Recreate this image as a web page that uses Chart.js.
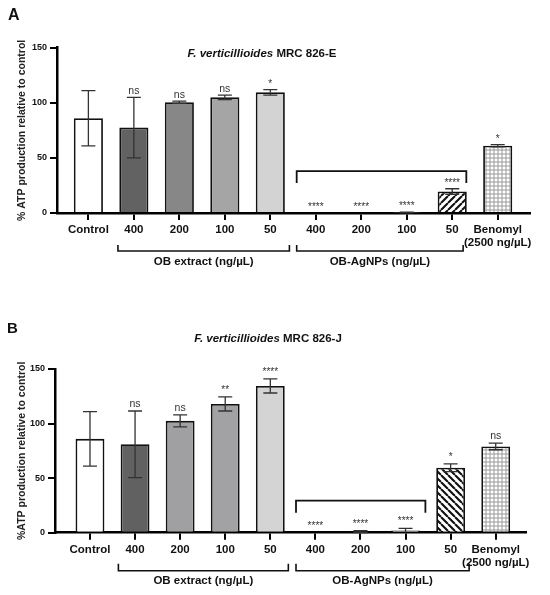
<!DOCTYPE html>
<html>
<head>
<meta charset="utf-8">
<script src="https://cdn.jsdelivr.net/npm/chart.js@4.4.0/dist/chart.umd.min.js"></script>
<style>
  html, body { margin: 0; padding: 0; background: #fff; }
  .panel { position: absolute; left: 0; width: 550px; }
  #panelA { top: 0; height: 300px; }
  #panelB { top: 300px; height: 295px; }
</style>
</head>
<body>
<div class="panel" id="panelA"><canvas id="chartA"></canvas></div>
<div class="panel" id="panelB"><canvas id="chartB"></canvas></div>
<script>
// categories shared by both panels
const categories = ['Control', '400', '200', '100', '50', '400', '200', '100', '50', ['Benomyl', '(2500 ng/µL)']];
const groupLabels = ['OB extract (ng/µL)', 'OB-AgNPs (ng/µL)'];
const yTicks = [0, 50, 100, 150];

// Panel A - F. verticillioides MRC 826-E
const valuesA = [86, 77.5, 100.5, 105, 109.5, 0, 0, 0.5, 19.5, 61];
const errorsA = [25, 27.5, 1, 2, 2.5, 0, 0, 0.3, 2.5, 1];
const signifA = ['', 'ns', 'ns', 'ns', '*', '****', '****', '****', '****', '*'];

// Panel B - F. verticillioides MRC 826-J
const valuesB = [86, 81, 102.5, 118, 134.5, 0, 1, 2, 59.5, 79];
const errorsB = [25, 30.5, 5.5, 6.5, 6.5, 0, 0.8, 2, 3.5, 3];
const signifB = ['', 'ns', 'ns', '**', '****', '****', '****', '****', '*', 'ns'];

const FONT = '"Liberation Sans", Arial, Helvetica, sans-serif';

// diagonal hatch fill, dir 1 = '/', -1 = '\'
function hatch(dir) {
    const s = 7;
    const c = document.createElement('canvas');
    c.width = s; c.height = s;
    const g = c.getContext('2d');
    g.fillStyle = '#fff';
    g.fillRect(0, 0, s, s);
    g.strokeStyle = '#111';
    g.lineWidth = 2.1;
    g.beginPath();
    for (let k = -1; k <= 1; k++) {
        if (dir > 0) { g.moveTo(k * s, s); g.lineTo(k * s + s, 0); }
        else { g.moveTo(k * s, 0); g.lineTo(k * s + s, s); }
    }
    g.stroke();
    return g.createPattern(c, 'repeat');
}

// fine dotted fill for Benomyl
function dots() {
    const c = document.createElement('canvas');
    c.width = 4; c.height = 4;
    const g = c.getContext('2d');
    g.fillStyle = '#fff';
    g.fillRect(0, 0, 4, 4);
    g.strokeStyle = '#777';
    g.lineWidth = 0.8;
    g.beginPath();
    g.arc(2, 2, 1.2, 0, Math.PI * 2);
    g.stroke();
    return g.createPattern(c, 'repeat');
}

const fillsA = ['#ffffff', '#626262', '#878787', '#a5a5a6', '#d3d3d3', '#ffffff', '#ffffff', '#ffffff', hatch(1), dots()];
const fillsB = ['#ffffff', '#616161', '#a0a0a2', '#a2a2a4', '#d4d4d4', '#ffffff', '#ffffff', '#e6e6e6', hatch(-1), dots()];

// error bars, stars, brackets, titles
const panelDecor = {
    id: 'panelDecor',
    afterDatasetsDraw(chart, args, opts) {
        const ctx = chart.ctx;
        const ds = chart.data.datasets[0];
        const meta = chart.getDatasetMeta(0);
        const y = chart.scales.y;
        ctx.save();
        ctx.strokeStyle = '#333';
        ctx.lineWidth = 1.3;
        meta.data.forEach((bar, i) => {
            const v = ds.data[i].y, e = ds.errors[i];
            if (!e) return;
            const top = y.getPixelForValue(v + e);
            const low = y.getPixelForValue(Math.max(0, v - e));
            const cap = 7;
            ctx.beginPath();
            ctx.moveTo(bar.x, top); ctx.lineTo(bar.x, low);
            ctx.moveTo(bar.x - cap, top); ctx.lineTo(bar.x + cap, top);
            if (v - e > 0) { ctx.moveTo(bar.x - cap, low); ctx.lineTo(bar.x + cap, low); }
            ctx.stroke();
        });
        ctx.fillStyle = '#333';
        ctx.textAlign = 'center';
        ctx.textBaseline = 'alphabetic';
        meta.data.forEach((bar, i) => {
            const s = ds.signif[i];
            if (!s) return;
            const top = y.getPixelForValue(ds.data[i].y + (ds.errors[i] || 0));
            ctx.font = (s === 'ns' ? '10.5px ' : '10px ') + FONT;
            ctx.fillText(s, bar.x, top - opts.annGap);
        });
        ctx.restore();
    },
    afterDraw(chart, args, opts) {
        const ctx = chart.ctx;
        const x = chart.scales.x, y = chart.scales.y, area = chart.chartArea;
        ctx.save();
        ctx.strokeStyle = '#111';
        ctx.fillStyle = '#111';
        ctx.lineWidth = 1.6;

        // group brackets under the axis
        ctx.font = 'bold 11.5px ' + FONT;
        ctx.textAlign = 'center';
        ctx.textBaseline = 'middle';
        opts.groups.forEach((g, i) => {
            const x0 = x.getPixelForValue(g[0]), x1 = x.getPixelForValue(g[1]);
            const yl = area.bottom + opts.groupLine, yt = yl - opts.groupTick;
            ctx.beginPath();
            ctx.moveTo(x0, yt); ctx.lineTo(x0, yl); ctx.lineTo(x1, yl); ctx.lineTo(x1, yt);
            ctx.stroke();
            ctx.fillText(groupLabels[i], (x0 + x1) / 2, yl + opts.groupText);
        });

        // significance bracket over the AgNPs
        const b = opts.sigBracket;
        const bx0 = x.getPixelForValue(b[0]), bx1 = x.getPixelForValue(b[1]);
        const by = y.getPixelForValue(b[2]), be = y.getPixelForValue(b[3]);
        ctx.lineWidth = 1.8;
        ctx.beginPath();
        ctx.moveTo(bx0, be); ctx.lineTo(bx0, by); ctx.lineTo(bx1, by); ctx.lineTo(bx1, be);
        ctx.stroke();

        // panel letter
        ctx.textAlign = 'left';
        ctx.textBaseline = 'alphabetic';
        ctx.font = 'bold ' + opts.letterSize + 'px ' + FONT;
        ctx.fillText(opts.letter, opts.letterX, opts.letterY);

        // title: italic species + strain
        const italicPart = 'F. verticillioides ';
        ctx.font = 'italic bold 11.5px ' + FONT;
        const w1 = ctx.measureText(italicPart).width;
        ctx.font = 'bold 11.5px ' + FONT;
        const w2 = ctx.measureText(opts.strain).width;
        const tx = opts.titleX - (w1 + w2) / 2;
        ctx.textBaseline = 'middle';
        ctx.font = 'italic bold 11.5px ' + FONT;
        ctx.fillText(italicPart, tx, opts.titleY);
        ctx.font = 'bold 11.5px ' + FONT;
        ctx.fillText(opts.strain, tx + w1, opts.titleY);
        ctx.restore();
    }
};

function makePanel(id, values, errors, signif, fills, L) {
    const ctx = document.getElementById(id);
    const config = {
        type: 'bar',
        data: {
            datasets: [{
                data: values.map((v, i) => ({ x: i, y: v })),
                errors: errors,
                signif: signif,
                backgroundColor: fills,
                borderColor: '#111',
                borderWidth: 1.8,
                categoryPercentage: 1,
                barPercentage: 0.64
            }]
        },
        options: {
            responsive: true,
            maintainAspectRatio: false,
            animation: false,
            layout: { padding: { top: L.top, right: L.right, left: 0, bottom: 0 } },
            scales: {
                x: {
                    type: 'linear',
                    offset: false,
                    min: L.xMin,
                    max: L.xMax,
                    afterBuildTicks: s => { s.ticks = categories.map((c, i) => ({ value: i })); },
                    afterFit: s => { s.height = L.xAxisHeight; s.paddingLeft = 0; s.paddingRight = 0; },
                    grid: { offset: false, drawOnChartArea: false, drawTicks: true, tickLength: 7, color: '#000', lineWidth: 2 },
                    border: { display: true, color: '#000', width: 2.5 },
                    ticks: {
                        callback: v => categories[v],
                        font: { family: FONT, size: 11.5, weight: 'bold', lineHeight: 1.17 },
                        color: '#111',
                        padding: 3,
                        maxRotation: 0,
                        autoSkip: false
                    }
                },
                y: {
                    min: 0,
                    max: 150,
                    afterBuildTicks: s => { s.ticks = yTicks.map(v => ({ value: v })); },
                    afterFit: s => { s.width = L.yAxisWidth; s.paddingTop = 0; s.paddingBottom = 0; },
                    grid: { drawOnChartArea: false, drawTicks: true, tickLength: 7, color: '#000', lineWidth: 2 },
                    border: { display: true, color: '#000', width: 2.5 },
                    ticks: { font: { family: FONT, size: 9, weight: 'bold' }, color: '#111', padding: 3 },
                    title: {
                        display: true,
                        text: L.yTitle,
                        font: { family: FONT, size: 10.5, weight: 'bold' },
                        color: '#222',
                        padding: { top: 16, bottom: 0 }
                    }
                }
            },
            plugins: {
                legend: { display: false },
                tooltip: { enabled: false },
                panelDecor: L.decor
            }
        },
        plugins: [panelDecor]
    };
    return new Chart(ctx, config);
}

makePanel('chartA', valuesA, errorsA, signifA, fillsA, {
    top: 47.7, right: 20, yAxisWidth: 57, xAxisHeight: 87,
    xMin: -0.69, xMax: 9.71,
    yTitle: '% ATP production relative to control',
    decor: {
        annGap: 3,
        groups: [[0.65, 4.42], [4.58, 8.24]],
        groupLine: 38, groupTick: 6, groupText: 10.7,
        sigBracket: [4.58, 8.31, 38, 27.3],
        letter: 'A', letterSize: 16, letterX: 8, letterY: 20,
        strain: 'MRC 826-E', titleX: 262, titleY: 54
    }
});

makePanel('chartB', valuesB, errorsB, signifB, fillsB, {
    top: 69, right: 24.3, yAxisWidth: 55, xAxisHeight: 62.3,
    xMin: -0.776, xMax: 9.665,
    yTitle: '%ATP production relative to control',
    decor: {
        annGap: 4,
        groups: [[0.63, 4.4], [4.57, 8.41]],
        groupLine: 38, groupTick: 7, groupText: 10.3,
        sigBracket: [4.57, 7.44, 29.3, 18.3],
        letter: 'B', letterSize: 15, letterX: 7, letterY: 33,
        strain: 'MRC 826-J', titleX: 268, titleY: 39.3
    }
});
</script>
</body>
</html>
